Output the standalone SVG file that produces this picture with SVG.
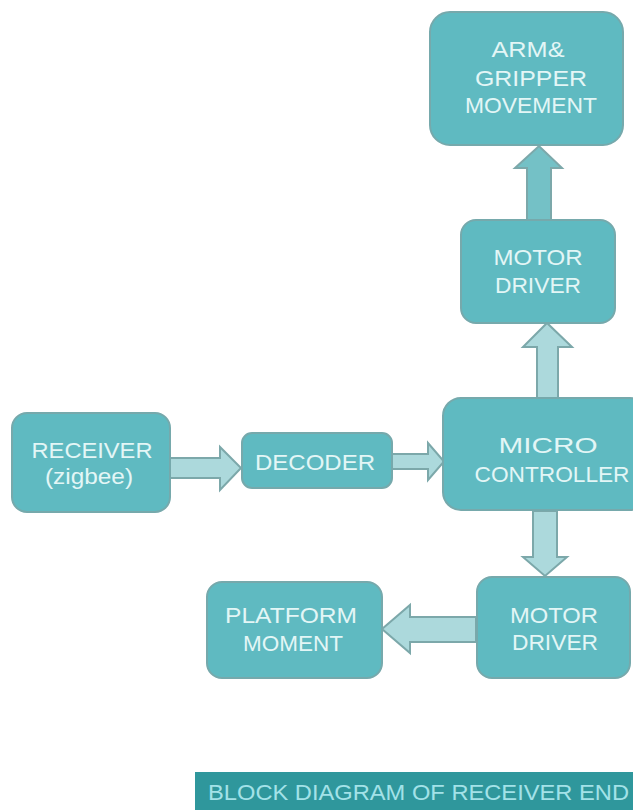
<svg xmlns="http://www.w3.org/2000/svg" width="633" height="810" viewBox="0 0 633 810">
<defs>
<style>
.box{fill:#5fbac1;stroke:#76a9ac;stroke-width:2}
.t{font-family:"Liberation Sans",Arial,sans-serif;fill:#e3f6f6;text-anchor:middle;font-size:22px}
.arL{fill:#acd9dc;stroke:#7ca8aa;stroke-width:2;stroke-linejoin:miter}
.arD{fill:#74c1c6;stroke:#7ca8aa;stroke-width:2}
</style>
</defs>
<rect width="633" height="810" fill="#ffffff"/>
<g id="connectors">
<polygon class="arD" points="527,220 527,168 515,168 539,146 562,168 551,168 551,220"/>
<polygon class="arL" points="537,398 537,347 523,347 547,323 572,347 558,347 558,398"/>
<polygon class="arL" points="533,511 533,557 523,557 545,576 567,557 557,557 557,511"/>
<polygon class="arL" points="476,617 410,617 410,605 382,629 410,653 410,642 476,642"/>
<polygon class="arL" points="170,458 220,458 220,447 241,468 220,490 220,478 170,478"/>
<polygon class="arL" points="392,454 428,454 428,443 444,461.5 428,480 428,469 392,469"/>
</g>
<g id="arm">
<rect class="box" x="430" y="12" width="193" height="133" rx="20"/>
<text class="t" x="528" y="57" textLength="73" lengthAdjust="spacingAndGlyphs">ARM&amp;</text>
<text class="t" x="531" y="86" textLength="112" lengthAdjust="spacingAndGlyphs">GRIPPER</text>
<text class="t" x="531" y="113" textLength="132" lengthAdjust="spacingAndGlyphs">MOVEMENT</text>
</g>
<g id="motor-driver-top">
<rect class="box" x="461" y="220" width="154" height="103" rx="15"/>
<text class="t" x="538" y="265" textLength="89" lengthAdjust="spacingAndGlyphs">MOTOR</text>
<text class="t" x="538" y="293" textLength="86" lengthAdjust="spacingAndGlyphs">DRIVER</text>
</g>
<g id="receiver">
<rect class="box" x="12" y="413" width="158" height="99" rx="15"/>
<text class="t" x="92" y="458" font-size="23" textLength="121" lengthAdjust="spacingAndGlyphs">RECEIVER</text>
<text class="t" x="89" y="484" font-size="23" textLength="88" lengthAdjust="spacingAndGlyphs">(zigbee)</text>
</g>
<g id="decoder">
<rect class="box" x="242" y="433" width="150" height="55" rx="10"/>
<text class="t" x="315" y="470" font-size="23" textLength="120" lengthAdjust="spacingAndGlyphs">DECODER</text>
</g>
<g id="micro">
<rect class="box" x="443" y="398" width="205" height="112" rx="18"/>
<text class="t" x="548" y="453" font-size="29" textLength="99" lengthAdjust="spacingAndGlyphs">MICRO</text>
<text class="t" x="552" y="482" font-size="23" textLength="155" lengthAdjust="spacingAndGlyphs">CONTROLLER</text>
</g>
<g id="motor-driver-bottom">
<rect class="box" x="477" y="577" width="153" height="101" rx="15"/>
<text class="t" x="554" y="623" textLength="88" lengthAdjust="spacingAndGlyphs">MOTOR</text>
<text class="t" x="555" y="650" textLength="86" lengthAdjust="spacingAndGlyphs">DRIVER</text>
</g>
<g id="platform">
<rect class="box" x="207" y="582" width="175" height="96" rx="15"/>
<text class="t" x="291" y="623" textLength="132" lengthAdjust="spacingAndGlyphs">PLATFORM</text>
<text class="t" x="293" y="651" textLength="100" lengthAdjust="spacingAndGlyphs">MOMENT</text>
</g>
<g id="title">
<rect x="195" y="772" width="438" height="38" fill="#2f979c"/>
<text x="208" y="800" font-family="'Liberation Sans',Arial,sans-serif" font-size="22" fill="#a3e2e8" textLength="421" lengthAdjust="spacingAndGlyphs">BLOCK DIAGRAM OF RECEIVER END</text>
</g>
</svg>
